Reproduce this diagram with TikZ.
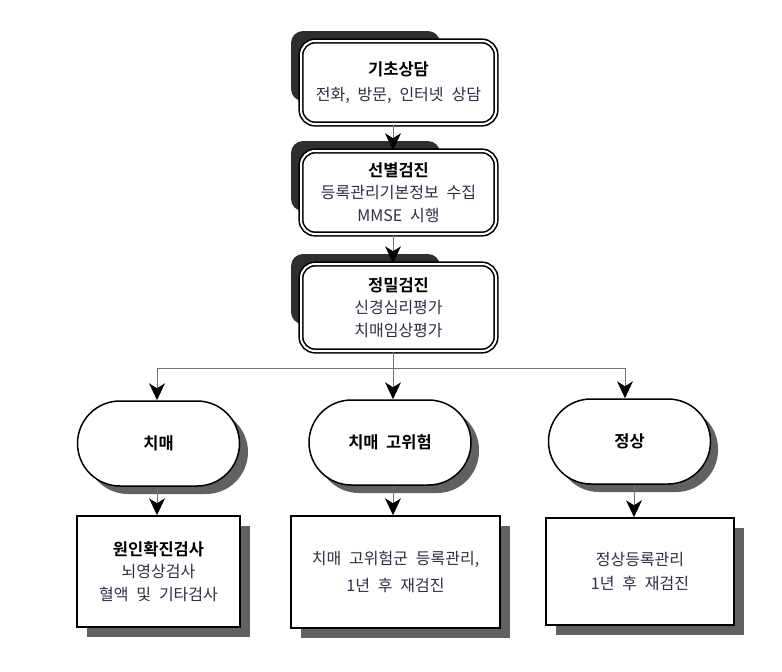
\documentclass[tikz,border=0pt]{standalone}
\usepackage{fontspec}
\setmainfont{Liberation Serif}
\newfontfamily\kr[WordSpace={2.2}]{Noto Sans CJK KR}
\newfontfamily\krb[WordSpace={2}]{Noto Sans CJK KR Bold}
\usetikzlibrary{arrows.meta,shapes.misc}
\definecolor{txt}{HTML}{2E2E45}
\newcommand{\hdt}[1]{{\krb\fontsize{16.5}{19}\selectfont #1}}
\newcommand{\bdt}[1]{{\kr\fontsize{16}{19}\selectfont\color{txt} #1}}
\begin{document}
\begin{tikzpicture}[x=1pt,y=-1pt,
  topbox/.style={draw=black,fill=white,rounded corners=14pt,line width=1.6pt,double=white,double distance=2pt,minimum width=195pt,minimum height=83pt,align=center,inner sep=0pt},
  tab/.style={fill=black!82,rounded corners=12pt},
  oval/.style={draw=black,fill=white,line width=1.5pt,rounded rectangle,minimum width=162pt,minimum height=85pt,inner sep=0pt,font=\krb\fontsize{16.5}{19}\selectfont},
  rbox/.style={draw=black,fill=white,line width=1.5pt,align=center,inner sep=0pt},
  shad/.style={fill=black!62},
  ln/.style={draw=black!55,line width=0.7pt},
  arr/.style={ln,-{Stealth[length=17pt,width=16pt,inset=5pt,color=black,line width=0pt]}}
]
\useasboundingbox (0,0) rectangle (782,672);
\foreach \y in {31,141,254}{\fill[tab] (291,\y) rectangle (440,\y+70);}
\node[topbox] (b1) at (398.5,82.5) {\hdt{기초상담}\\[9pt]\bdt{전화, 방문, 인터넷 상담}};
\node[topbox] (b2) at (398.5,192.5) {\hdt{선별검진}\\[7pt]\bdt{등록관리기본정보 수집}\\[7pt]\bdt{MMSE 시행}};
\node[topbox,minimum height=87pt] (b3) at (398.5,307.5) {\hdt{정밀검진}\\[7pt]\bdt{신경심리평가}\\[7pt]\bdt{치매임상평가}};
\fill[shad,rounded corners=42pt] (86,410) rectangle (248,494);
\fill[shad,rounded corners=42pt] (317,408) rectangle (479,493);
\fill[shad,rounded corners=42pt] (557,407) rectangle (718,492);
\node[oval] (o1) at (158.5,443.5) {치매};
\node[oval] (o2) at (390,442.5) {치매 고위험};
\node[oval] (o3) at (629.5,441.5) {정상};
\fill[shad] (87,526) rectangle (250,637);
\fill[shad] (301,526) rectangle (510,638);
\fill[shad] (556,528) rectangle (744,635);
\node[rbox,minimum width=163pt,minimum height=111pt] (r1) at (158.5,571.5) {\hdt{원인확진검사}\\[7pt]\bdt{뇌영상검사}\\[7pt]\bdt{혈액 및 기타검사}};
\node[rbox,minimum width=209pt,minimum height=112pt] (r2) at (395.5,572) {\bdt{치매 고위험군 등록관리,}\\[9pt]\bdt{1년 후 재검진}};
\node[rbox,minimum width=188pt,minimum height=107pt] (r3) at (640,571.5) {\bdt{정상등록관리}\\[9pt]\bdt{1년 후 재검진}};
\draw[arr] (b1.south -| 393,0) -- (b2.north -| 393,0);
\draw[arr] (b2.south -| 393,0) -- (b3.north -| 393,0);
\coordinate (j) at (393,368);
\coordinate (jl) at (157,368);
\coordinate (jr) at (625,368);
\draw[ln] (b3.south -| 393,0) -- (j);
\draw[ln] (jl) -- (jr);
\draw[arr] (jl) -- (o1.north -| jl);
\draw[arr] (j) -- (o2.north -| j);
\draw[arr] (jr) -- (o3.north -| jr);
\draw[arr] (o1.south -| 157,0) -- (r1.north -| 157,0);
\draw[arr] (o2.south -| 393,0) -- (r2.north -| 393,0);
\draw[arr] (o3.south -| 634,0) -- (r3.north -| 634,0);
\end{tikzpicture}
\end{document}
